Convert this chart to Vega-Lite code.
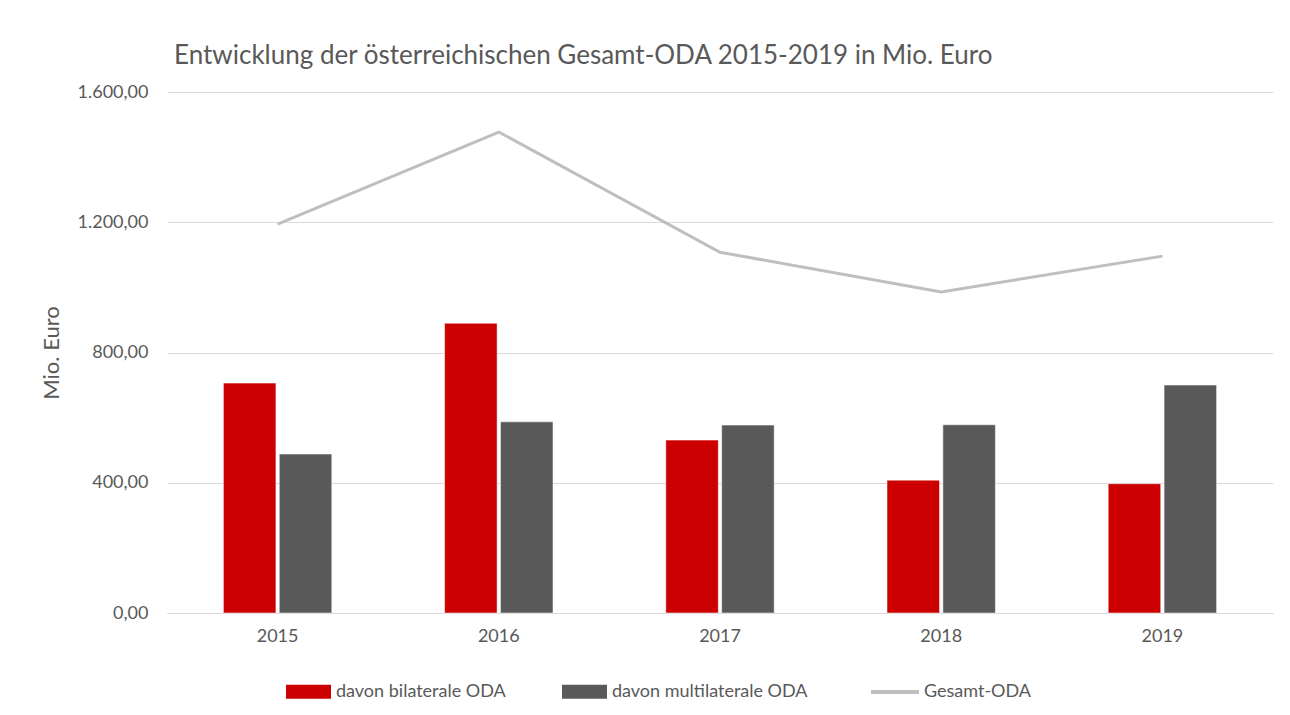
{
  "$schema": "https://vega.github.io/schema/vega-lite/v6.json",
  "width": 1106,
  "height": 521,
  "autosize": {"type": "none"},
  "padding": {"left": 167, "top": 92, "right": 17, "bottom": 102},
  "background": "white",
  "config": {
    "locale": {"number": {"decimal": ",", "thousands": ".", "grouping": [3], "currency": ["", " €"]}},
    "font": "Lato",
    "view": {"stroke": null},
    "axis": {"labelFont": "Lato", "titleFont": "Lato", "labelColor": "#595959", "titleColor": "#595959"}
  },
  "title": {
    "text": "Entwicklung der österreichischen Gesamt-ODA 2015-2019 in Mio. Euro",
    "anchor": "start",
    "dx": 134,
    "offset": 14,
    "fontSize": 26,
    "fontWeight": "normal",
    "color": "#595959",
    "font": "Lato"
  },
  "datasets": {
    "bars": [
      {"Jahr": "2015", "Serie": "davon bilaterale ODA", "Wert": 706},
      {"Jahr": "2015", "Serie": "davon multilaterale ODA", "Wert": 488},
      {"Jahr": "2016", "Serie": "davon bilaterale ODA", "Wert": 890},
      {"Jahr": "2016", "Serie": "davon multilaterale ODA", "Wert": 587},
      {"Jahr": "2017", "Serie": "davon bilaterale ODA", "Wert": 531},
      {"Jahr": "2017", "Serie": "davon multilaterale ODA", "Wert": 577},
      {"Jahr": "2018", "Serie": "davon bilaterale ODA", "Wert": 408},
      {"Jahr": "2018", "Serie": "davon multilaterale ODA", "Wert": 578},
      {"Jahr": "2019", "Serie": "davon bilaterale ODA", "Wert": 397},
      {"Jahr": "2019", "Serie": "davon multilaterale ODA", "Wert": 700}
    ],
    "total": [
      {"Jahr": "2015", "Serie": "Gesamt-ODA", "Wert": 1194},
      {"Jahr": "2016", "Serie": "Gesamt-ODA", "Wert": 1477},
      {"Jahr": "2017", "Serie": "Gesamt-ODA", "Wert": 1108},
      {"Jahr": "2018", "Serie": "Gesamt-ODA", "Wert": 986},
      {"Jahr": "2019", "Serie": "Gesamt-ODA", "Wert": 1096}
    ]
  },
  "encoding": {
    "x": {
      "field": "Jahr", "type": "nominal",
      "scale": {"paddingInner": 0.51, "paddingOuter": 0.255},
      "axis": {"title": null, "labelAngle": 0, "labelFontSize": 18, "labelPadding": 14, "ticks": false, "domainColor": "#D9D9D9", "domainWidth": 1, "grid": false}
    }
  },
  "layer": [
    {
      "data": {"name": "bars"},
      "mark": {"type": "bar", "stroke": "white", "strokeWidth": 0.5},
      "encoding": {
        "xOffset": {"field": "Serie", "type": "nominal", "scale": {"paddingInner": 0.06}},
        "y": {
          "field": "Wert", "type": "quantitative",
          "scale": {"domain": [0, 1600]},
          "axis": {"title": "Mio. Euro", "titleFontSize": 22, "titleFontWeight": "normal", "titlePadding": 14, "format": ",.2f", "values": [0, 400, 800, 1200, 1600], "labelFontSize": 18, "labelPadding": 19, "ticks": false, "domain": false, "gridColor": "#D9D9D9", "gridWidth": 1}
        },
        "color": {
          "field": "Serie", "type": "nominal",
          "scale": {"domain": ["davon bilaterale ODA", "davon multilaterale ODA"], "range": ["#CC0000", "#595959"]},
          "legend": {
            "title": null, "orient": "none", "legendX": 119, "legendY": 577, "direction": "horizontal",
            "symbolType": "M-1,-0.31H1V0.31H-1Z", "symbolSize": 2025, "symbolStrokeWidth": 0,
            "labelFontSize": 18, "labelColor": "#595959", "labelFont": "Lato", "labelLimit": 400, "columnPadding": 56, "labelOffset": 5
          }
        }
      }
    },
    {
      "data": {"name": "total"},
      "mark": {"type": "line", "strokeWidth": 3, "color": "#BFBFBF"},
      "encoding": {
        "y": {"field": "Wert", "type": "quantitative"},
        "stroke": {
          "field": "Serie", "type": "nominal",
          "scale": {"domain": ["Gesamt-ODA"], "range": ["#BFBFBF"]},
          "legend": {
            "title": null, "orient": "none", "legendX": 702, "legendY": 574,
            "symbolType": "stroke", "symbolSize": 2300, "symbolStrokeWidth": 4,
            "labelFontSize": 18, "labelColor": "#595959", "labelFont": "Lato", "labelLimit": 400, "labelOffset": 3
          }
        }
      }
    }
  ]
}
